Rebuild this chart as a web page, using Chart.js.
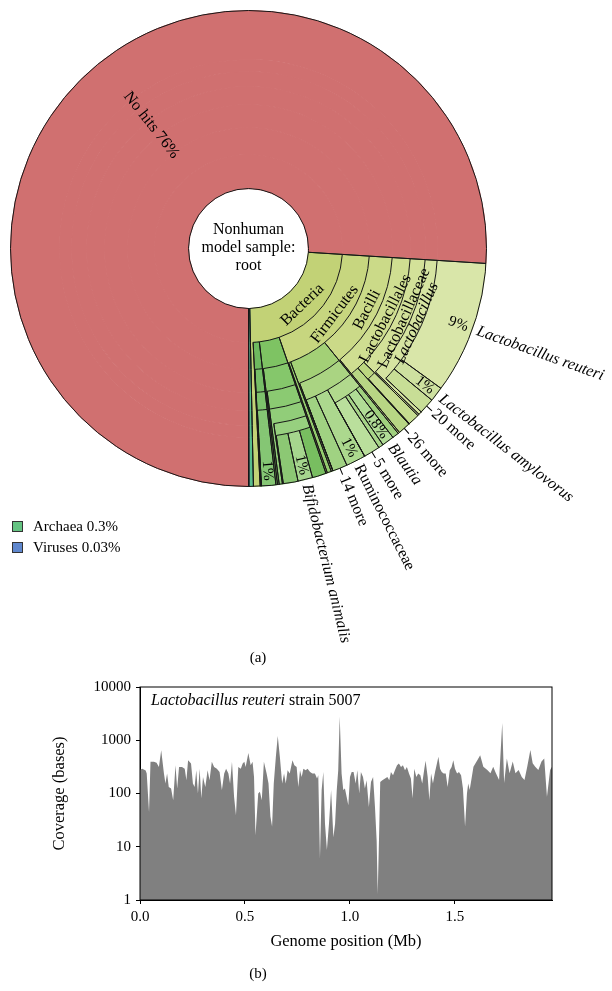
<!DOCTYPE html>
<html>
<head>
<meta charset="utf-8">
<script src="https://cdn.jsdelivr.net/npm/chart.js@4.4.1/dist/chart.umd.min.js"></script>
<style>
html,body{margin:0;padding:0;background:#fff;}
body{width:612px;height:991px;position:relative;overflow:hidden;font-family:"Liberation Serif","DejaVu Serif",serif;color:#000;}
#krona{position:absolute;left:0;top:0;}
#coverage{position:absolute;left:0;top:670px;}
.cap{position:absolute;left:228px;width:60px;text-align:center;font-size:15px;line-height:18px;}
.sw{position:absolute;left:12px;width:9px;height:9px;border:1px solid #333;}
.lt{position:absolute;left:33px;font-size:15px;line-height:18px;}
#strain{position:absolute;left:151px;top:691px;font-size:16px;line-height:18px;}
</style>
</head>
<body>
<canvas id="krona" width="612" height="680"></canvas>
<canvas id="coverage" width="612" height="321"></canvas>
<div class="sw" style="top:521px;background:rgb(100,195,130)"></div>
<div class="lt" style="top:517px">Archaea 0.3%</div>
<div class="sw" style="top:542px;background:rgb(95,135,205)"></div>
<div class="lt" style="top:538px">Viruses 0.03%</div>
<div class="cap" style="top:648px">(a)</div>
<div id="strain"><i>Lactobacillus reuteri</i> strain 5007</div>
<div class="cap" style="top:964px">(b)</div>
<script>
'use strict';
// (a) taxonomy, depth first order, % of all reads
let nodeNames=['No hits','Bacteria','Firmicutes','Bacilli','Lactobacillales','Lactobacillaceae','Lactobacillus',
 'Lactobacillus reuteri','Lactobacillus amylovorus','20 more','Streptococcaceae','Streptococcus','26 more',
 'Clostridia','Clostridiales','Lachnospiraceae','Coprococcus','Blautia','Roseburia','5 more','Ruminococcaceae','14 more',
 'Erysipelotrichia','Actinobacteria','Actinobacteria (class)','Bifidobacteriales','Bifidobacteriaceae','Bifidobacterium',
 'Bifidobacterium pseudolongum','Bifidobacterium animalis','Bifidobacterium (other)','Bacteroidetes','Bacteroidia','Bacteroidales','Bacteroidaceae',
 'Archaea','Viruses'];
let nodeParents=[-1,-1,1,2,3,4,5,6,6,6,4,10,4,2,13,14,15,15,15,15,14,14,2,1,23,24,25,26,27,27,27,1,31,32,33,-1,-1];
let nodePercents=[76,23.67,18.72,13.17,13.06,11.39,11.28,9.0,1.0,1.06,0.83,0.78,0.84,5.17,5.06,2.72,0.44,0.83,0.33,1.11,1.33,1.0,
 0.28,3.44,3.33,3.22,3.22,3.0,0.94,1.0,1.0,1.06,1.0,1.0,0.97,0.3,0.03];
// which nodes get which text
let ringLabelNodes=[1,2,3,4,5,6];
let pctLabelNodes=[7,8,17,20,29,34];
let pctLabelText=['9%','1%','0.8%','1%','1%','1%'];
let leafLabelNodes=[7,8,9,12,17,19,20,21,29];
let italicNodes=[6,7,8,17,29];
let centreText=['Nonhuman','model sample:','root'];

// (b) coverage along the genome
let positionsMb=[0,0.011,0.027,0.032,0.043,0.050,0.066,0.079,0.090,0.101,0.114,0.121,0.129,0.137,0.148,0.158,0.169,0.177,0.186,0.200,
 0.213,0.221,0.229,0.243,0.252,0.260,0.268,0.276,0.284,0.292,0.300,0.311,0.322,0.331,0.342,0.353,0.366,0.379,0.390,0.401,
 0.410,0.421,0.429,0.438,0.448,0.457,0.468,0.480,0.489,0.497,0.503,0.516,0.527,0.536,0.543,0.550,0.563,0.571,0.580,0.590,
 0.603,0.612,0.621,0.629,0.637,0.647,0.656,0.666,0.677,0.686,0.694,0.703,0.713,0.726,0.735,
 0.746,0.754,0.762,0.770,0.778,0.789,0.798,0.810,0.821,0.833,0.843,0.849,0.857,0.865,0.873,0.881,0.890,0.900,0.910,0.921,
 0.929,0.937,0.944,0.951,0.960,0.968,0.976,0.984,0.992,1.000,1.008,1.017,1.027,1.035,1.044,1.052,1.062,1.071,1.079,1.090,
 1.100,1.110,1.119,1.127,1.132,1.138,1.144,1.154,1.167,1.178,1.187,1.195,1.205,1.214,1.224,1.233,1.243,1.252,1.262,1.271,
 1.281,1.290,1.298,1.306,1.316,1.325,1.335,1.344,1.354,1.360,1.370,1.378,1.386,1.395,1.405,1.414,1.421,1.429,1.437,1.446,
 1.456,1.465,1.475,1.484,1.492,1.500,1.510,1.519,1.529,1.538,1.548,1.557,1.563,1.570,
 1.588,1.607,1.620,1.635,1.654,1.669,1.682,1.695,1.710,1.725,1.734,1.747,1.760,1.775,1.788,1.803,1.818,1.831,1.844,1.859,
 1.870,1.882,1.897,1.912,1.925,1.938,1.953,1.962];
let coverage=[280,293,270,237,45,393,393,376,316,650,237,154,237,133,124,75,340,124,316,316,
 293,178,422,365,154,133,274,100,293,81,205,133,274,178,393,316,293,254,116,237,
 293,237,154,393,87,39,316,293,365,393,316,575,340,393,205,16.5,100,108,75,393,
 237,154,37,24,154,488,1200,488,154,237,154,274,237,422,340,
 316,133,274,205,293,274,293,254,237,237,191,221,6,116,254,27,8.7,27,116,15,
 27,116,274,2800,237,116,124,87,60,205,254,254,154,274,100,254,205,124,178,56,
 165,205,56,13,1.3,13,165,178,191,205,178,254,221,274,340,365,316,340,274,316,
 237,191,81,293,205,237,221,154,293,410,205,75,237,154,254,365,488,293,254,237,
 237,133,274,316,422,293,237,254,221,124,24,100,154,116,
 318,425,520,318,276,240,318,240,179,2100,158,456,240,400,240,276,205,179,318,655,
 370,318,276,400,456,87,276,318];
let yTickValues=[1,10,100,1000,10000];
let xTickValues=[0,0.5,1,1.5];

// colours, one per node
let nodeColours=['rgb(208,112,112)','rgb(194,210,118)','rgb(199,214,127)','rgb(203,218,136)','rgb(207,222,145)','rgb(211,225,153)','rgb(214,228,161)',
 'rgb(217,230,169)','rgb(206,225,160)','rgb(200,222,150)','rgb(188,214,128)','rgb(198,220,144)','rgb(184,214,132)',
 'rgb(163,208,118)','rgb(170,212,130)','rgb(177,217,141)','rgb(160,209,126)','rgb(176,220,150)','rgb(166,212,136)','rgb(186,223,156)','rgb(172,216,142)','rgb(160,210,130)',
 'rgb(148,204,110)','rgb(126,195,99)','rgb(133,199,107)','rgb(139,202,114)','rgb(145,205,121)','rgb(151,208,127)',
 'rgb(120,190,96)','rgb(166,214,142)','rgb(140,200,116)','rgb(110,185,95)','rgb(118,190,102)','rgb(125,194,108)','rgb(133,198,116)',
 'rgb(90,190,140)','rgb(90,130,200)'];

Chart.defaults.font.family='"Liberation Serif","DejaVu Serif",serif';
Chart.defaults.font.size=15;
Chart.defaults.color='#000';

// depth of every node and its children
let nodeDepth=nodeParents.map(function(p,i){let d=1;while(nodeParents[i]>=0){i=nodeParents[i];d++;}return d;});
let kids=nodeNames.map(function(){return [];});
nodeParents.forEach(function(p,i){if(p>=0)kids[p].push(i);});
let maxDepth=7;

// ring d holds nodes of depth d, and the left-over part of shallower nodes
function ringSegments(d){
  let segs=[];
  function walk(i){
    if(nodeDepth[i]===d){segs.push({node:i,value:nodePercents[i],cont:false});return;}
    let used=0;
    kids[i].forEach(function(k){walk(k);used+=nodePercents[k];});
    let rest=nodePercents[i]-used;
    if(rest>1e-6)segs.push({node:i,value:rest,cont:true});
  }
  nodeParents.forEach(function(p,i){if(p<0)walk(i);});
  return segs;
}
let ringSegs=[];
for(let d=maxDepth;d>=1;d--)ringSegs.push(ringSegments(d));
// outer ring first, radial thickness of each ring
let ringWeights=[49,12,15,18,23,27,34];

function arcOf(chart,di,n){
  let k=ringSegs[di].findIndex(function(s){return s.node===n;});
  return chart.getDatasetMeta(di).data[k].getProps(['x','y','startAngle','endAngle','innerRadius','outerRadius']);
}

let kronaLines={
  id:'kronaLines',
  afterDatasetsDraw(chart){
    let ctx=chart.ctx;
    ctx.save();
    ctx.strokeStyle='#161616';
    ctx.lineWidth=1;
    let cx,cy,R;
    ringSegs.forEach(function(segs,di){
      chart.getDatasetMeta(di).data.forEach(function(arc,k){
        let p=arc.getProps(['x','y','startAngle','endAngle','innerRadius','outerRadius']);
        cx=p.x;cy=p.y;if(di===0)R=p.outerRadius;
        ctx.beginPath();
        [p.startAngle,p.endAngle].forEach(function(a){
          ctx.moveTo(p.x+p.innerRadius*Math.cos(a),p.y+p.innerRadius*Math.sin(a));
          ctx.lineTo(p.x+p.outerRadius*Math.cos(a),p.y+p.outerRadius*Math.sin(a));
        });
        if(!segs[k].cont){
          ctx.moveTo(p.x+p.innerRadius*Math.cos(p.startAngle),p.y+p.innerRadius*Math.sin(p.startAngle));
          ctx.arc(p.x,p.y,p.innerRadius,p.startAngle,p.endAngle);
        }
        ctx.stroke();
      });
    });
    ctx.beginPath();
    ctx.arc(cx,cy,R,0,Math.PI*2);
    ctx.stroke();
    ctx.restore();
  }
};

let kronaText={
  id:'kronaText',
  afterDraw(chart){
    let ctx=chart.ctx;
    ctx.save();
    ctx.fillStyle='#000';
    ctx.textBaseline='middle';
    let rim=arcOf(chart,0,0);
    let cx=rim.x,cy=rim.y,R=rim.outerRadius;
    // names along the arcs
    ringLabelNodes.forEach(function(n){
      let p=arcOf(chart,maxDepth-nodeDepth[n],n);
      let a=(p.startAngle+p.endAngle)/2,r=(p.innerRadius+p.outerRadius)/2;
      ctx.save();
      ctx.translate(cx+r*Math.cos(a),cy+r*Math.sin(a));
      ctx.rotate(a-Math.PI/2);
      ctx.font=(italicNodes.includes(n)?'italic ':'')+'16px "Liberation Serif"';
      ctx.textAlign='center';
      ctx.fillText(nodeNames[n],0,1);
      ctx.restore();
    });
    // percentages near the rim
    pctLabelNodes.forEach(function(n,i){
      let p=arcOf(chart,0,n);
      let a=(p.startAngle+p.endAngle)/2;
      ctx.save();
      ctx.translate(cx,cy);ctx.rotate(a);
      ctx.font='15px "Liberation Serif"';
      ctx.textAlign='right';
      ctx.fillText(pctLabelText[i],R-5,0);
      ctx.restore();
    });
    // leaf names outside
    leafLabelNodes.forEach(function(n){
      let p=arcOf(chart,0,n);
      let a=(p.startAngle+p.endAngle)/2;
      let more=/more$/.test(nodeNames[n]);
      ctx.save();
      ctx.translate(cx,cy);ctx.rotate(a);
      if(more){
        ctx.strokeStyle='#000';ctx.lineWidth=1;
        ctx.beginPath();ctx.moveTo(R,0);ctx.lineTo(R+7,0);ctx.stroke();
      }
      ctx.font=(italicNodes.includes(n)?'italic ':'')+'16px "Liberation Serif"';
      ctx.textAlign='left';
      ctx.fillText(nodeNames[n],R+(more?9:5),0);
      ctx.restore();
    });
    // no hits
    let q=arcOf(chart,maxDepth-1,0);
    let a=(q.startAngle+q.endAngle)/2+5*Math.PI/180;
    ctx.save();
    ctx.translate(cx+157*Math.cos(a),cy+157*Math.sin(a));
    ctx.rotate(a-Math.PI);
    ctx.font='16px "Liberation Serif"';
    ctx.textAlign='center';
    ctx.fillText(nodeNames[0]+' '+nodePercents[0]+'%',0,0);
    ctx.restore();
    // centre
    ctx.font='16px "Liberation Serif"';
    ctx.textAlign='center';
    centreText.forEach(function(t,i){ctx.fillText(t,cx,cy-19+i*18);});
    ctx.restore();
  }
};

new Chart(document.getElementById('krona'),{
  type:'doughnut',
  data:{
    datasets:ringSegs.map(function(segs,di){
      return {
        data:segs.map(function(s){return s.value;}),
        backgroundColor:segs.map(function(s){return nodeColours[s.node];}),
        borderColor:segs.map(function(s){return nodeColours[s.node];}),
        borderWidth:1,
        weight:ringWeights[di]
      };
    })
  },
  options:{
    responsive:false,animation:false,events:[],
    cutout:60,rotation:180,
    layout:{padding:{left:10,top:10,right:125,bottom:193}},
    plugins:{legend:{display:false},tooltip:{enabled:false}}
  },
  plugins:[kronaLines,kronaText]
});

let frame={
  id:'frame',
  afterDraw(chart){
    let c=chart.chartArea,ctx=chart.ctx;
    ctx.save();ctx.strokeStyle='#000';ctx.lineWidth=1;
    ctx.strokeRect(c.left,c.top,c.right-c.left,c.bottom-c.top);
    ctx.restore();
  }
};

new Chart(document.getElementById('coverage'),{
  type:'line',
  data:{datasets:[{
    data:positionsMb.map(function(x,i){return {x:x,y:coverage[i]};}),
    fill:'start',backgroundColor:'rgb(128,128,128)',
    borderWidth:0,pointRadius:0,tension:0
  }]},
  options:{
    responsive:false,animation:false,events:[],
    layout:{padding:{left:0,right:60,top:17,bottom:0}},
    plugins:{legend:{display:false},tooltip:{enabled:false}},
    scales:{
      x:{type:'linear',min:0,max:1.962,
        afterBuildTicks:function(a){a.ticks=xTickValues.map(function(v){return {value:v};});},
        afterFit:function(s){s.height=91;},
        ticks:{callback:function(v){return v.toFixed(1);},padding:4,maxRotation:0},
        grid:{drawOnChartArea:false,tickLength:4,color:'#000'},
        border:{color:'#000'},
        title:{display:true,text:'Genome position (Mb)',font:{size:16.5},padding:{top:0,bottom:39}}},
      y:{type:'logarithmic',min:1,max:10000,
        afterBuildTicks:function(a){a.ticks=yTickValues.map(function(v){return {value:v};});},
        afterFit:function(s){s.width=140;},
        ticks:{callback:function(v){return String(v);},padding:5},
        grid:{drawOnChartArea:false,tickLength:4,color:'#000'},
        border:{color:'#000'},
        title:{display:true,text:'Coverage (bases)',font:{size:16.5},padding:{top:50,bottom:0}}}
    }
  },
  plugins:[frame]
});
</script>
</body>
</html>
